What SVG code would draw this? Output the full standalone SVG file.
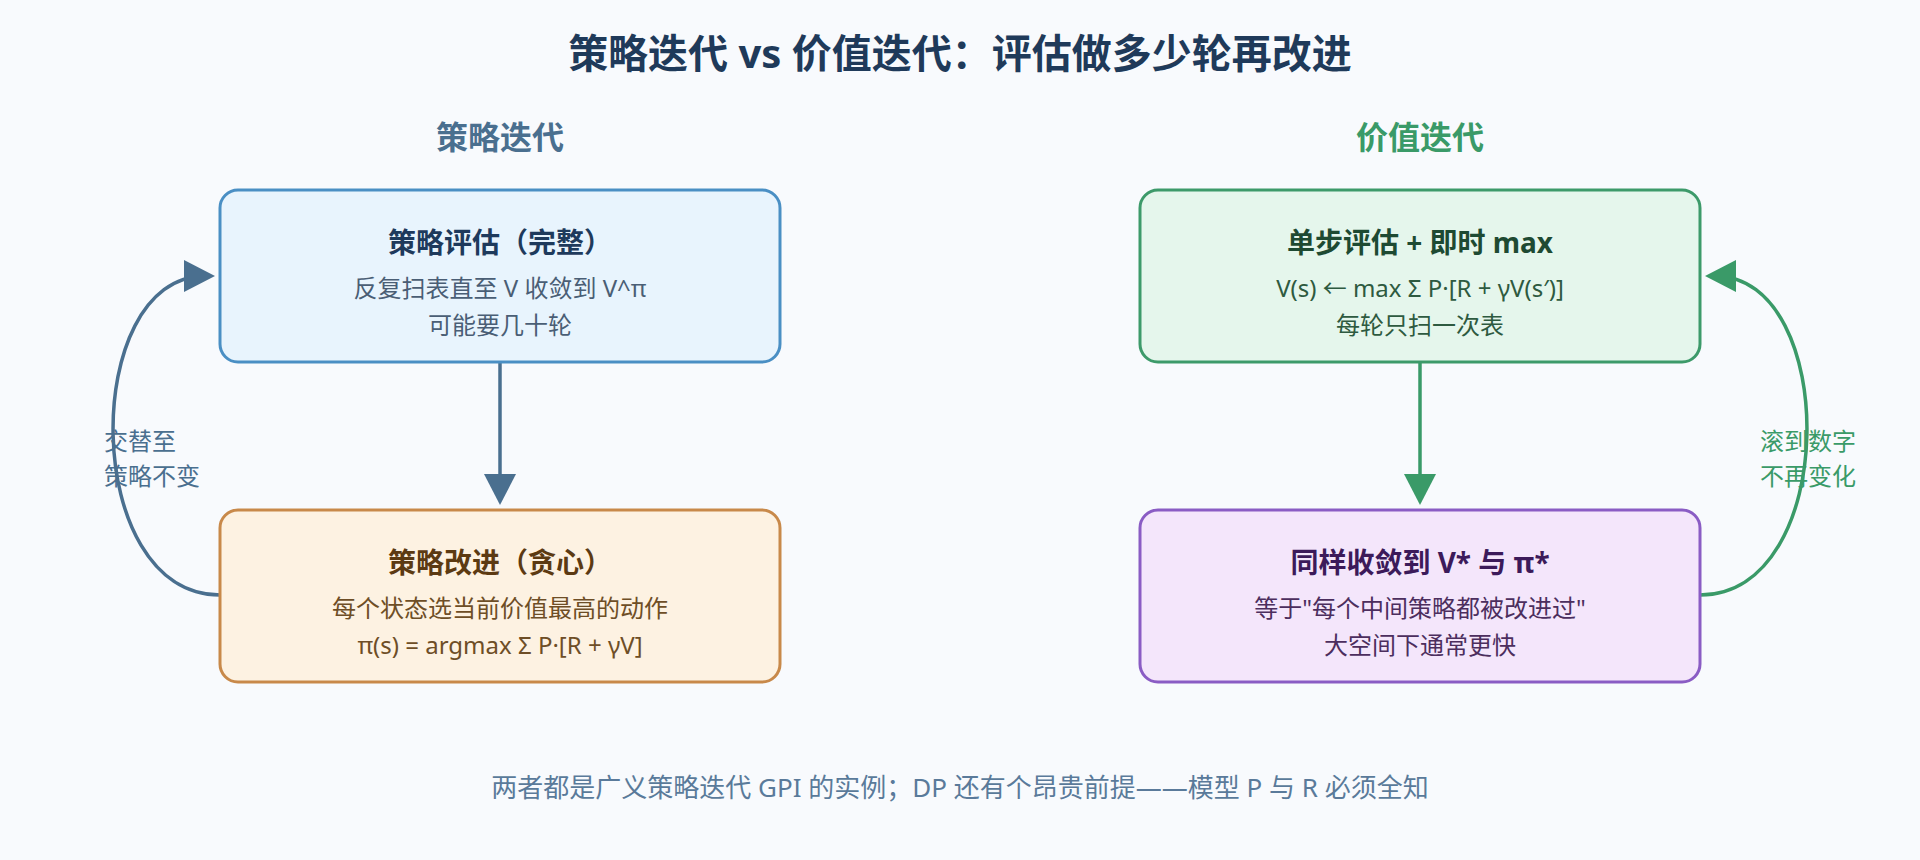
<svg xmlns="http://www.w3.org/2000/svg" width="1920" height="860" viewBox="0 0 1920 860">
  <defs>
    <marker id="arrBlue" viewBox="0 0 32 32" markerUnits="userSpaceOnUse" markerWidth="32" markerHeight="32" refX="21" refY="16" orient="auto">
      <path d="M0,0 L31,16 L0,32 Z" fill="#4a6f8f"/>
    </marker>
    <marker id="arrGreen" viewBox="0 0 32 32" markerUnits="userSpaceOnUse" markerWidth="32" markerHeight="32" refX="21" refY="16" orient="auto">
      <path d="M0,0 L31,16 L0,32 Z" fill="#3a9a68"/>
    </marker>
  </defs>
  <style>
    text { font-family: "Noto Sans", "Noto Sans CJK SC", sans-serif; text-anchor: middle; }
    .title { font-size: 40px; font-weight: 700; fill: #1f3a5a; }
    .head { font-size: 32px; font-weight: 700; }
    .box { stroke-width: 3; }
    .bt { font-size: 28px; font-weight: 700; }
    .bs { font-size: 24px; }
    .side { font-size: 24px; text-anchor: start; }
    .foot { font-size: 26px; fill: #5a7a9a; }
    .conn { fill: none; stroke-width: 3.5; }
  </style>
  <rect x="0" y="0" width="1920" height="860" fill="#f8fafd"/>

  <text class="title" x="960" y="68">策略迭代 vs 价值迭代：评估做多少轮再改进</text>
  <text class="head" x="500" y="149" fill="#4a6f8f">策略迭代</text>
  <text class="head" x="1420" y="149" fill="#3a9a68">价值迭代</text>

  <g id="connectors">
    <path class="conn" d="M500,362 L500,495" stroke="#4a6f8f" marker-end="url(#arrBlue)"/>
    <path class="conn" d="M220,595 C80,595 80,276 205,276" stroke="#4a6f8f" marker-end="url(#arrBlue)"/>
    <path class="conn" d="M1420,362 L1420,495" stroke="#3a9a68" marker-end="url(#arrGreen)"/>
    <path class="conn" d="M1700,595 C1840,595 1840,276 1715,276" stroke="#3a9a68" marker-end="url(#arrGreen)"/>
    <text class="side" x="104" y="450" fill="#4a6f8f">交替至</text>
    <text class="side" x="104" y="485" fill="#4a6f8f">策略不变</text>
    <text class="side" x="1760" y="450" fill="#3a9a68">滚到数字</text>
    <text class="side" x="1760" y="485" fill="#3a9a68">不再变化</text>
  </g>

  <g id="pe">
    <rect class="box" x="220" y="190" width="560" height="172" rx="18" fill="#e8f4fd" stroke="#4a8fc4"/>
    <text class="bt" x="500" y="253" fill="#1e3a5c">策略评估（完整）</text>
    <text class="bs" x="500" y="296.5" fill="#4a5e75">反复扫表直至 V 收敛到 V^π</text>
    <text class="bs" x="500" y="334" fill="#4a5e75">可能要几十轮</text>
  </g>

  <g id="pi">
    <rect class="box" x="220" y="510" width="560" height="172" rx="18" fill="#fdf2e2" stroke="#c8894a"/>
    <text class="bt" x="500" y="573" fill="#5c3a12">策略改进（贪心）</text>
    <text class="bs" x="500" y="616.5" fill="#6e4e26">每个状态选当前价值最高的动作</text>
    <text class="bs" x="500" y="654" fill="#6e4e26">π(s) = argmax Σ P·[R + γV]</text>
  </g>

  <g id="vi">
    <rect class="box" x="1140" y="190" width="560" height="172" rx="18" fill="#e5f6ec" stroke="#3d9a6a"/>
    <text class="bt" x="1420" y="253" fill="#1e4a32">单步评估 + 即时 max</text>
    <text class="bs" x="1420" y="296.5" fill="#2e5a40">V(s) ← max Σ P·[R + γV(s′)]</text>
    <text class="bs" x="1420" y="334" fill="#2e5a40">每轮只扫一次表</text>
  </g>

  <g id="conv">
    <rect class="box" x="1140" y="510" width="560" height="172" rx="18" fill="#f4e6fb" stroke="#8a5cc4"/>
    <text class="bt" x="1420" y="573" fill="#3c1a5a">同样收敛到 V* 与 π*</text>
    <text class="bs" x="1420" y="616.5" fill="#4c2e5e">等于"每个中间策略都被改进过"</text>
    <text class="bs" x="1420" y="654" fill="#4c2e5e">大空间下通常更快</text>
  </g>

  <text class="foot" x="960" y="797">两者都是广义策略迭代 GPI 的实例；DP 还有个昂贵前提——模型 P 与 R 必须全知</text>
</svg>
